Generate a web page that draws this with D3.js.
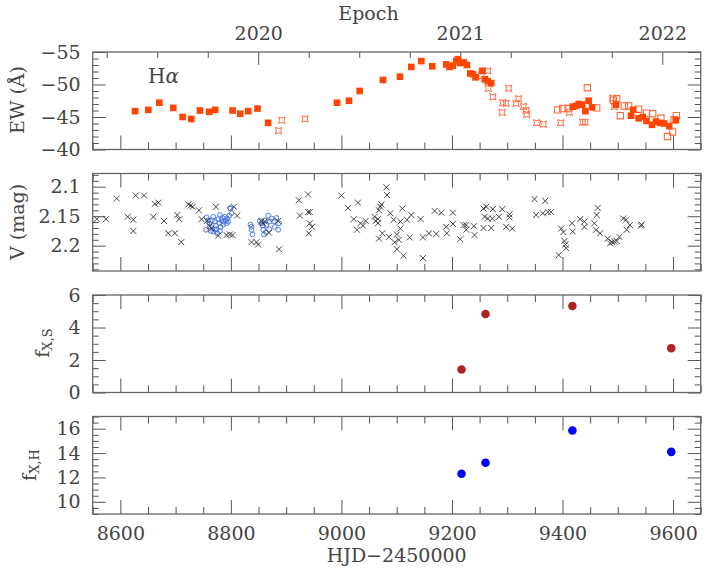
<!DOCTYPE html>
<html>
<head>
<meta charset="utf-8">
<script src="https://cdn.jsdelivr.net/npm/d3@7"></script>
<style>
  body { margin: 0; background: #fff; }
  text { font-family: "DejaVu Serif", serif; fill: #444; }
  .tick line { stroke: #555; stroke-width: 1; }
  .frame { fill: none; stroke: #666; stroke-width: 1.3; }
</style>
</head>
<body>
<div id="vis"></div>
<script>
// Panel data: [HJD-2450000, value]

// H-alpha EW, filled squares / open squares / star symbols
const ewFilled = [
  [8626.6,-45.9],[8650.6,-46.1],[8670.5,-47.2],[8695.8,-46.4],[8712.7,-45.0],[8728.3,-44.7],
  [8744,-46.0],[8760.8,-45.8],[8771.6,-46.1],[8803,-46.0],[8816.8,-45.5],[8831.3,-45.9],
  [8848.2,-46.3],[8867.4,-44.1],[8992,-47.2],[9013.7,-47.5],[9033,-49.0],[9075.2,-50.7],
  [9105.9,-51.2],[9126.4,-52.7],[9144.5,-53.6],[9164.4,-52.8],[9189.7,-53.1],[9195.6,-52.7],
  [9201.6,-52.9],[9207.8,-53.6],[9210.7,-53.9],[9215,-53.3],[9221,-53.4],[9227,-53.0],
  [9233,-51.7],[9237.8,-51.6],[9242.6,-51.1],[9254.7,-52.1],[9259.4,-50.8],[9264.9,-50.5],
  [9271,-50.2],[9418.5,-46.6],[9424.6,-46.7],[9429.3,-47.0],[9435.4,-46.9],[9441.4,-45.9],
  [9447.3,-47.5],[9453.5,-46.5],[9496.8,-46.9],[9524,-45.2],[9528,-46.1],[9537.7,-44.8],
  [9545,-45.0],[9552,-44.4],[9561.9,-43.8],[9569,-44.3],[9576.3,-44.1],[9584,-44.0],
  [9593,-43.6],[9605,-44.5]
]
const ewOpen = [
  [9391.4,-46.1],[9400.4,-46.3],[9410,-46.3],[9444.9,-49.5],[9461.8,-46.4],[9492,-47.6],
  [9498,-47.8],[9504.6,-45.2],[9511.8,-46.7],[9519.6,-46.7],[9537.7,-46.2],[9552,-45.6],
  [9563,-45.5],[9578,-44.8],[9590,-42.0],[9599,-42.7],[9602,-44.6],[9606,-45.2]
]
const ewStar = [
  [8886.2,-42.9],[8892.1,-44.5],[8934.2,-44.7],[9253,-51.3],[9264.9,-52.1],[9266,-49.4],
  [9274,-48.1],[9302.8,-49.4],[9292,-47.2],[9298,-47.1],[9290.9,-45.7],[9316,-47.1],
  [9320.3,-47.8],[9329.4,-46.6],[9334,-46.0],[9335.3,-45.4],[9353.4,-44.1],[9365.5,-43.9],
  [9396.8,-44.1],[9412.5,-45.7],[9436.5,-44.2],[9441,-44.2],[9490.7,-47.9],[9493.8,-46.6]
]

// V magnitude, crosses and blue circles
const vCross = [
  [8557.4,2.155],[8574,2.155],[8593.5,2.120],[8613.4,2.151],[8623.5,2.156],[8623.5,2.175],
  [8627.8,2.115],[8642.8,2.115],[8659.6,2.151],[8662.7,2.129],[8668.7,2.127],[8679,2.158],
  [8686.7,2.179],[8698.8,2.179],[8703,2.148],[8706.6,2.155],[8710.2,2.194],[8722.9,2.130],
  [8727.2,2.132],[8730.8,2.134],[8742.2,2.140],[8747,2.155],[8757.2,2.158],[8762,2.167],
  [8765,2.171],[8772.9,2.134],[8777,2.183],[8792.2,2.182],[8798.2,2.181],[8803,2.182],
  [8805.4,2.134],[8811.4,2.149],[8837.4,2.194],[8846.4,2.194],[8849.3,2.198],[8855.5,2.159],
  [8858.4,2.162],[8861.4,2.159],[8869.2,2.178],[8885.5,2.158],[8887.3,2.206],[8922.9,2.123],
  [8924.7,2.149],[8939.7,2.113],[8939.7,2.143],[8942.7,2.143],[8942.7,2.162],[8946.9,2.168],
  [8941,2.179],[9000,2.115],[9012,2.136],[9022.2,2.155],[9028.2,2.173],[9030,2.127],
  [9034.3,2.162],[9039,2.166],[9043.9,2.158],[9060,2.151],[9062,2.158],[9066,2.155],
  [9066,2.162],[9068,2.140],[9070.5,2.134],[9072.3,2.130],[9081.3,2.101],[9082.4,2.114],
  [9068,2.188],[9074,2.179],[9086,2.185],[9088.5,2.145],[9094.5,2.156],[9096.3,2.194],
  [9100.4,2.181],[9100.4,2.206],[9104,2.190],[9106.6,2.159],[9106.6,2.171],[9110.2,2.137],
  [9112.5,2.217],[9118.5,2.156],[9123.4,2.186],[9126.4,2.148],[9143.3,2.155],[9147.4,2.186],
  [9147.4,2.221],[9158.3,2.179],[9168.6,2.141],[9171.6,2.180],[9180.7,2.144],[9189.7,2.168],
  [9190.8,2.179],[9201.6,2.144],[9201.6,2.163],[9215,2.189],[9221,2.165],[9225.8,2.165],
  [9225.8,2.173],[9239.6,2.167],[9240.8,2.182],[9257,2.137],[9258.9,2.151],[9262,2.134],
  [9264.9,2.154],[9257,2.170],[9271,2.170],[9274,2.138],[9273,2.154],[9285,2.151],
  [9291,2.138],[9298,2.168],[9304,2.147],[9304,2.152],[9309,2.171],[9349.3,2.121],
  [9352.3,2.148],[9368.6,2.124],[9364.3,2.145],[9373.3,2.143],[9379.4,2.143],[9393.2,2.216],
  [9397.5,2.171],[9401.6,2.177],[9403.4,2.192],[9405.2,2.198],[9406.5,2.204],[9417.3,2.162],
  [9418.5,2.176],[9431.8,2.155],[9439.6,2.159],[9439.6,2.168],[9457.6,2.162],[9460.7,2.173],
  [9463.6,2.136],[9461.8,2.148],[9467.9,2.179],[9481.7,2.188],[9486,2.196],[9489.6,2.194],
  [9493.8,2.193],[9498,2.192],[9502.8,2.185],[9510,2.154],[9515,2.156],[9516,2.173],
  [9522,2.165],[9542,2.166],[9543,2.164]
]
const vCircle = [
  [8756.1,2.152],[8759.1,2.157],[8760.9,2.162],[8762.1,2.168],[8763.3,2.175],[8768.1,2.151],
  [8771.1,2.159],[8772.9,2.166],[8774.1,2.172],[8777.2,2.155],[8779,2.162],[8780.2,2.148],
  [8781.4,2.168],[8783.2,2.157],[8785,2.153],[8786.2,2.164],[8787.4,2.159],[8789.2,2.151],
  [8791,2.157],[8792.2,2.162],[8793.4,2.154],[8795.2,2.159],[8797,2.149],[8768.1,2.176],
  [8771.1,2.173],[8754.9,2.173],[8799.5,2.137],[8801.3,2.145],[8798.2,2.136],[8765.7,2.157],
  [8780.2,2.175],[8775.4,2.179],
  [8835.6,2.164],[8837.4,2.168],[8837.4,2.173],[8839.2,2.181],[8852.4,2.158],[8855.5,2.162],
  [8857.3,2.166],[8858.5,2.173],[8859.7,2.181],[8861.5,2.157],[8864.5,2.165],[8867.5,2.149],
  [8869.3,2.172],[8873.5,2.154],[8877.7,2.159],[8879.5,2.168],[8882.5,2.153],[8885.6,2.173],
  [8887.4,2.162],[8870.5,2.159],[8863.3,2.177]
]

// X-ray fluxes: [HJD, value, error]
const fxSoft = [[9217.3,1.42,0.08],[9260.7,4.83,0.12],[9417.9,5.32,0.1],[9596.7,2.72,0.07]]
const fxHard = [[9217.3,12.3,0.15],[9260.7,13.2,0.3],[9417.9,15.85,0.15],[9596.7,14.1,0.15]]

// Axis ticks
const hjdTicks = [8600, 8800, 9000, 9200, 9400, 9600]
const epochYears = [2020, 2021, 2022]
const epochZero = [8849.5, 9580.5]

const WIDTH = 709
const HEIGHT = 570
const X0 = 92.7
const X1 = 700.7
const PANELH = 97.5
const PANELTOP = [52, 173.5, 295, 416.5]

const svg = d3.select("#vis").append("svg")
  .attr("width", WIDTH)
  .attr("height", HEIGHT)

const x = d3.scaleLinear().domain([8550, 9650]).range([X0, X1])

const panels = [
  { domain: [-55, -40], flip: false, major: 5, minor: 1, labels: [-55, -50, -45, -40], fmt: d3.format("d") },
  { domain: [2.0776, 2.2429], flip: false, major: 0.05, minor: 0.01, labels: [2.1, 2.15, 2.2], fmt: d => String(d) },
  { domain: [0, 6], flip: true, major: 2, minor: 0.5, labels: [0, 2, 4, 6], fmt: d3.format("d") },
  { domain: [9, 17], flip: true, major: 2, minor: 0.5, labels: [10, 12, 14, 16], fmt: d3.format("d") }
]

function range(a, b, step) {
  const out = []
  for (let v = Math.ceil(a / step - 1e-6) * step; v <= b + 1e-9; v += step) out.push(+v.toFixed(4))
  return out
}

const ys = panels.map((p, i) => {
  const top = PANELTOP[i], bot = top + PANELH
  return d3.scaleLinear().domain(p.domain).range(p.flip ? [bot, top] : [top, bot])
})

const hjdMinor = range(8550, 9650, 50)

panels.forEach((p, i) => {
  const y = ys[i]
  const top = PANELTOP[i], bot = top + PANELH
  const g = svg.append("g").attr("class", `panel-${i}`)
  const lo = d3.min(p.domain), hi = d3.max(p.domain)
  const majors = range(lo, hi, p.major)
  const minors = range(lo, hi, p.minor).filter(v => !majors.some(m => Math.abs(m - v) < 1e-6))

  // left / right ticks
  g.append("g").attr("transform", `translate(${X0},0)`)
    .call(d3.axisLeft(y).tickValues(minors).tickSize(-6).tickFormat(""))
  g.append("g").attr("transform", `translate(${X0},0)`)
    .call(d3.axisLeft(y).tickValues(majors).tickSize(-13).tickPadding(12)
      .tickFormat(d => p.labels.some(l => Math.abs(l - d) < 1e-6) ? p.fmt(d) : ""))
  g.append("g").attr("transform", `translate(${X1},0)`)
    .call(d3.axisRight(y).tickValues(minors).tickSize(-6).tickFormat(""))
  g.append("g").attr("transform", `translate(${X1},0)`)
    .call(d3.axisRight(y).tickValues(majors).tickSize(-13).tickFormat(""))

  // bottom ticks
  g.append("g").attr("transform", `translate(0,${bot})`)
    .call(d3.axisBottom(x).tickValues(hjdMinor.filter(v => v % 200 != 0)).tickSize(-7).tickFormat(""))
  g.append("g").attr("transform", `translate(0,${bot})`)
    .call(d3.axisBottom(x).tickValues(hjdTicks).tickSize(-14).tickPadding(12.5)
      .tickFormat(i == 3 ? d3.format("d") : ""))

  // top ticks
  if (i > 0) {
    g.append("g").attr("transform", `translate(0,${top})`)
      .call(d3.axisTop(x).tickValues(hjdMinor.filter(v => v % 200 != 0)).tickSize(-7).tickFormat(""))
    g.append("g").attr("transform", `translate(0,${top})`)
      .call(d3.axisTop(x).tickValues(hjdTicks).tickSize(-14).tickFormat(""))
  } else {
    const epoch = d3.scaleLinear().domain(epochYears.filter((d, k) => k != 1))
      .range(epochZero.map(x))
    const quarters = range(2019.25, 2022, 0.25).filter(v => v % 1 != 0)
    g.append("g").attr("transform", `translate(0,${top})`)
      .call(d3.axisTop(epoch).tickValues(quarters).tickSize(-6).tickFormat(""))
    g.append("g").attr("transform", `translate(0,${top})`)
      .call(d3.axisTop(epoch).tickValues(epochYears).tickSize(-13).tickPadding(12).tickFormat(d3.format("d")))
  }

  g.selectAll(".domain").remove()
  g.selectAll(".tick text").attr("font-size", 19).attr("fill", "#444")
    .style("font-family", "DejaVu Serif")

  g.append("rect").attr("class", "frame")
    .attr("x", X0).attr("y", top).attr("width", X1 - X0).attr("height", PANELH)
})

// Markers
const sq = d3.symbol(d3.symbolSquare, 44)
const starPath = (r => `M${-r},${-r}Q0,${-r * 0.35} ${r},${-r}Q${r * 0.35},0 ${r},${r}Q0,${r * 0.35} ${-r},${r}Q${-r * 0.35},0 ${-r},${-r}Z`)(3.2)
const crossPath = "M-3,-3L3,3M-3,3L3,-3"

const y0 = ys[0]
svg.append("g").selectAll("path").data(ewStar).join("path")
  .attr("d", starPath)
  .attr("transform", d => `translate(${x(d[0])},${y0(d[1])})`)
  .attr("fill", "none").attr("stroke", "#ff6a40").attr("stroke-width", 1)
svg.append("g").selectAll("path").data(ewOpen).join("path")
  .attr("d", d3.symbol(d3.symbolSquare, 40))
  .attr("transform", d => `translate(${x(d[0])},${y0(d[1])})`)
  .attr("fill", "none").attr("stroke", "#ff6a40").attr("stroke-width", 1.1)
svg.append("g").selectAll("path").data(ewFilled).join("path")
  .attr("d", sq)
  .attr("transform", d => `translate(${x(d[0])},${y0(d[1])})`)
  .attr("fill", "#ff4500")

svg.append("text").attr("x", 148).attr("y", 83).attr("font-size", 20)
  .text("H").append("tspan").attr("font-style", "italic").text("α")

const y1 = ys[1]
svg.append("g").selectAll("circle").data(vCircle).join("circle")
  .attr("cx", d => x(d[0])).attr("cy", d => y1(d[1])).attr("r", 2.4)
  .attr("fill", "none").attr("stroke", "#3f6ee0").attr("stroke-width", 0.9)
svg.append("g").selectAll("path").data(vCross).join("path")
  .attr("d", crossPath)
  .attr("transform", d => `translate(${x(d[0])},${y1(d[1])})`)
  .attr("stroke", "#333").attr("stroke-width", 0.9)

function drawFlux(data, y, color) {
  const g = svg.append("g")
  g.selectAll("line").data(data).join("line")
    .attr("x1", d => x(d[0])).attr("x2", d => x(d[0]))
    .attr("y1", d => y(d[1] - d[2])).attr("y2", d => y(d[1] + d[2]))
    .attr("stroke", "#555").attr("stroke-width", 1.2)
  g.selectAll("circle").data(data).join("circle")
    .attr("cx", d => x(d[0])).attr("cy", d => y(d[1])).attr("r", 4.3)
    .attr("fill", color)
}
drawFlux(fxSoft, ys[2], "#b22222")
drawFlux(fxHard, ys[3], "#0000ff")

// Titles
svg.append("text").attr("x", 368.5).attr("y", 20).attr("font-size", 19)
  .attr("text-anchor", "middle").text("Epoch")
svg.append("text").attr("x", (X0 + X1) / 2).attr("y", 562).attr("font-size", 19)
  .attr("text-anchor", "middle").text("HJD−2450000")

function yTitle(cx, cy, main, sub) {
  const t = svg.append("text")
    .attr("transform", `translate(${cx},${cy}) rotate(-90)`)
    .attr("text-anchor", "middle").attr("dominant-baseline", "central")
    .attr("font-size", 19).text(main)
  if (sub) t.append("tspan").attr("font-size", 13).attr("dy", 5).text(sub)
}
yTitle(17, 100, "EW (Å)")
yTitle(17, 222, "V (mag)")
yTitle(42, 343, "f", "X,S")
yTitle(29, 465, "f", "X,H")
</script>
</body>
</html>
